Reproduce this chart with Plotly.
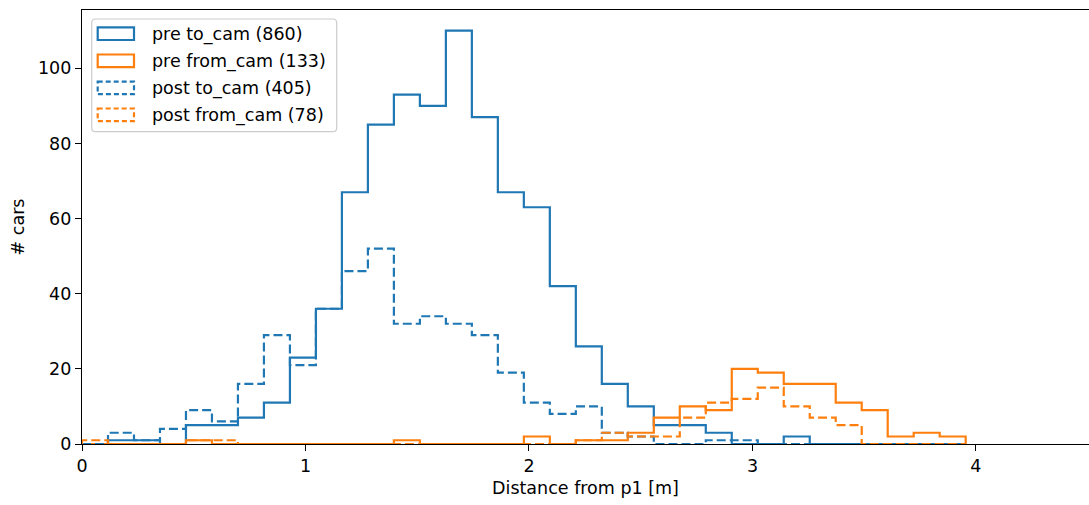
import plotly.graph_objects as go

# ---- data (histogram counts per bin, bins start at 0 with constant width) ----
BIN_WIDTH = 0.1163
pre_to_cam = [0, 1, 1, 0, 5, 5, 7, 11, 23, 36,
              67, 85, 93, 90, 110, 87, 67, 63, 42, 26,
              16, 10, 5, 5, 3, 0, 0, 2, 0, 0,
              0, 0, 0, 0]
pre_from_cam = [0, 0, 0, 0, 1, 0, 0, 0, 0, 0,
                0, 0, 1, 0, 0, 0, 0, 2, 0, 1,
                1, 3, 7, 10, 9, 20, 19, 16, 16, 11,
                9, 2, 3, 2]
post_to_cam = [0, 3, 1, 4, 9, 6, 16, 29, 21, 36,
               46, 52, 32, 34, 32, 29, 19, 11, 8, 10,
               3, 2, 0, 0, 1, 1, 0, 0, 0, 0,
               0, 0, 0, 0]
post_from_cam = [1, 0, 0, 0, 1, 1, 0, 0, 0, 0,
                 0, 0, 0, 0, 0, 0, 0, 0, 0, 1,
                 3, 2, 2, 7, 11, 12, 15, 10, 7, 5,
                 0, 0, 0, 0]
series_names = ["pre to_cam", "pre from_cam", "post to_cam", "post from_cam"]
x_ticks = [0, 1, 2, 3, 4]
y_ticks = [0, 20, 40, 60, 80, 100]

BLUE = "#1f77b4"
ORANGE = "#ff7f0e"
FONT = "DejaVu Sans"
FS = 17.5

n_bins = len(pre_to_cam)
edges = [round(i * BIN_WIDTH, 6) for i in range(n_bins + 1)]

series = [
    (series_names[0], pre_to_cam, BLUE, "solid"),
    (series_names[1], pre_from_cam, ORANGE, "solid"),
    (series_names[2], post_to_cam, BLUE, "9px,4px"),
    (series_names[3], post_from_cam, ORANGE, "9px,4px"),
]

fig = go.Figure()
for name, counts, color, dash in series:
    xs = [edges[0]] + edges
    ys = [0] + list(counts) + [0]
    fig.add_trace(go.Scatter(
        x=xs, y=ys, mode="lines", line_shape="hv",
        line=dict(color=color, width=2.2, dash=dash),
        name=f"{name} ({sum(counts)})", showlegend=False,
        hoverinfo="skip"))

# ---- layout geometry (pixels) ----
W, H = 1089, 505
L, R, T, B = 82, 0, 10, 61
PW, PH = W - L - R, H - T - B


def px(p):
    return (p - L) / PW


def py(p):
    return (H - B - p) / PH


shapes = []
annotations = []

# manual legend reproducing matplotlib patch-style entries
fx0, fx1, fy0, fy1, rr = 91.7, 336.7, 19, 131.7, 4
path = (f"M {px(fx0+rr)},{py(fy0)} L {px(fx1-rr)},{py(fy0)} "
        f"Q {px(fx1)},{py(fy0)} {px(fx1)},{py(fy0+rr)} "
        f"L {px(fx1)},{py(fy1-rr)} Q {px(fx1)},{py(fy1)} {px(fx1-rr)},{py(fy1)} "
        f"L {px(fx0+rr)},{py(fy1)} Q {px(fx0)},{py(fy1)} {px(fx0)},{py(fy1-rr)} "
        f"L {px(fx0)},{py(fy0+rr)} Q {px(fx0)},{py(fy0)} {px(fx0+rr)},{py(fy0)} Z")
shapes.append(dict(type="path", path=path, xref="paper", yref="paper",
                   fillcolor="rgba(255,255,255,0.8)",
                   line=dict(color="#cccccc", width=1.2), layer="above"))

row_centers = [33.7, 60.8, 87.9, 114.8]
for (name, counts, color, dash), cy in zip(series, row_centers):
    shapes.append(dict(type="rect", xref="paper", yref="paper",
                       x0=px(97.7), x1=px(134), y0=py(cy - 6.3), y1=py(cy + 6.3),
                       line=dict(color=color, width=2.2,
                                 dash="5px,3px" if dash != "solid" else "solid"),
                       fillcolor="rgba(0,0,0,0)", layer="above"))
    annotations.append(dict(xref="paper", yref="paper", x=px(150), y=py(cy + 0.5),
                            xanchor="left", yanchor="middle", showarrow=False,
                            text=f"{name} ({sum(counts)})",
                            font=dict(family=FONT, size=FS, color="#000000")))

fig.update_layout(
    width=W, height=H,
    margin=dict(l=L, r=R, t=T, b=B, autoexpand=False),
    paper_bgcolor="white", plot_bgcolor="white",
    font=dict(family=FONT, size=FS, color="#000000"),
    shapes=shapes, annotations=annotations,
    xaxis=dict(range=[0, 4.506], tickvals=x_ticks, ticktext=[str(v) for v in x_ticks],
               showgrid=False, zeroline=False, showline=True, linecolor="#000000",
               linewidth=1.4, mirror=True, ticks="outside", ticklen=6, tickwidth=1.4,
               tickcolor="#000000", automargin=False,
               tickfont=dict(family=FONT, size=FS, color="#000000"),
               title=dict(text="Distance from p1 [m]", standoff=6,
                          font=dict(family=FONT, size=FS, color="#000000"))),
    yaxis=dict(range=[0, 115.5], tickvals=y_ticks, ticktext=[str(v) for v in y_ticks],
               showgrid=False, zeroline=False, showline=True, linecolor="#000000",
               linewidth=1.4, mirror=False, ticks="outside", ticklen=6, tickwidth=1.4,
               tickcolor="#000000", automargin=False,
               tickfont=dict(family=FONT, size=FS, color="#000000"),
               title=dict(text="# cars", standoff=8,
                          font=dict(family=FONT, size=FS, color="#000000"))),
)

fig.write_html("out.html")
